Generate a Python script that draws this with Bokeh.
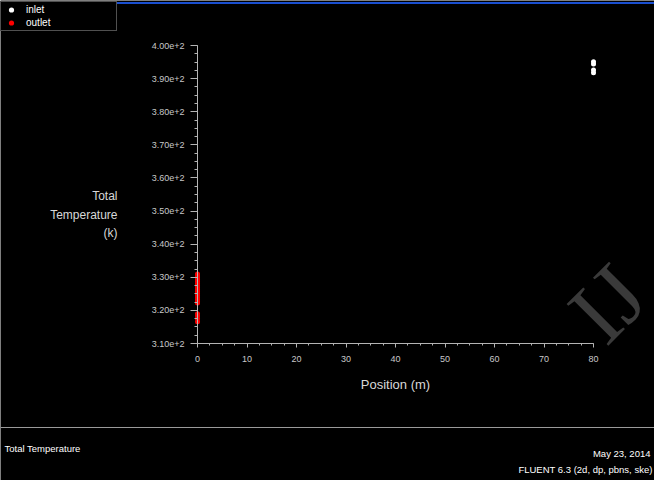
from bokeh.plotting import figure
from bokeh.models import (Range1d, FixedTicker, PrintfTickFormatter, Label, Legend,
                          LegendItem, Span, ColumnDataSource)
from bokeh.embed import file_html
from bokeh.resources import INLINE

# ---- data ----
inlet_position = [80, 80, 80, 80]
inlet_temperature = [395.1, 394.4, 392.6, 391.8]

outlet_position = [0] * 20
outlet_temperature = [331.0, 330.4, 329.9, 329.3, 328.7, 328.1, 327.5, 326.9, 326.3, 325.7,
                      325.1, 324.5, 323.9, 323.3, 322.7, 322.2, 319.0, 318.3, 317.5, 316.6]

x_ticks = [0, 10, 20, 30, 40, 50, 60, 70, 80]
y_ticks = [310, 320, 330, 340, 350, 360, 370, 380, 390, 400]

W, H = 654, 480
FONT = "Liberation Sans"
LBL = "#c8c8c8"
AXC = "#b4b4b4"

# frame fills the whole canvas; data window chosen so 0..80 / 310..400 land where the axes are
XPX = 4.95          # px per metre
YPX = 298 / 90      # px per kelvin
X0, Y400 = 197, 45  # canvas position of x=0 and y=400
x_lo = -X0 / XPX
x_hi = 80 + (W - (X0 + 80 * XPX)) / XPX
y_hi = 400 + Y400 / YPX
y_lo = 400 - (H - Y400) / YPX

p = figure(width=W, height=H, output_backend="svg", toolbar_location=None,
           x_range=Range1d(x_lo, x_hi), y_range=Range1d(y_lo, y_hi),
           min_border_left=0, min_border_right=0, min_border_top=0, min_border_bottom=0,
           background_fill_color="black", border_fill_color="black", outline_line_color=None)
p.grid.visible = False

x_minor = [i * 2.5 for i in range(33)]
y_minor = [310 + i * 2.5 for i in range(37)]

xa = p.xaxis[0]
xa.ticker = FixedTicker(ticks=x_ticks, minor_ticks=x_minor)
xa.bounds = (0, 80)
xa.fixed_location = 310
xa.axis_label = "Position (m)"
xa.axis_label_text_font = FONT
xa.axis_label_text_font_size = "13px"
xa.axis_label_text_font_style = "normal"
xa.axis_label_text_color = "#d8d8d8"
xa.axis_label_standoff = 12
xa.major_label_standoff = 8
xa.major_tick_out = 4
xa.minor_tick_out = 2

ya = p.yaxis[0]
ya.ticker = FixedTicker(ticks=y_ticks, minor_ticks=y_minor)
ya.formatter = PrintfTickFormatter(format="%.2e")
ya.bounds = (310, 400)
ya.fixed_location = 0
ya.major_label_standoff = 6
ya.major_tick_out = 7
ya.minor_tick_out = 3

for ax in (xa, ya):
    ax.axis_line_color = AXC
    ax.major_tick_line_color = AXC
    ax.minor_tick_line_color = AXC
    ax.major_tick_in = 0
    ax.minor_tick_in = 0
    ax.major_label_text_font = FONT
    ax.major_label_text_font_size = "9px"
    ax.major_label_text_color = LBL


def lab(text, x, y, **kw):
    # x, y: canvas pixels from top-left; screen units here are frame-relative, y up
    opts = dict(text_font=FONT, text_font_size="9.5px", text_color="white",
                text_baseline="middle")
    opts.update(kw)
    p.add_layout(Label(x=x, y=H - y, x_units="screen", y_units="screen", text=text, **opts))


# watermark (only the part that fits inside the picture)
lab("IJ", 584, 326, angle=45, angle_units="deg", text_font="Liberation Serif",
    text_font_size="90px", text_color="#3a3a3a", text_baseline="alphabetic")

src_in = ColumnDataSource(dict(x=inlet_position, y=inlet_temperature))
src_out = ColumnDataSource(dict(x=outlet_position, y=outlet_temperature))
r_in = p.scatter("x", "y", source=src_in, size=5, color="white", line_color=None)
r_out = p.scatter("x", "y", source=src_out, size=5, color="red", line_color=None)

# y axis title, right aligned, three lines
for txt, yy in (("Total", 195), ("Temperature", 214), ("(k)", 232)):
    lab(txt, 117, yy, text_align="right", text_font_size="12px", text_color="#d8d8d8")

legend = Legend(items=[LegendItem(label="inlet", renderers=[r_in]),
                       LegendItem(label="outlet", renderers=[r_out])],
                location=(0, H - 31), margin=0, padding=1, spacing=0,
                label_height=13, glyph_height=13, glyph_width=18, label_standoff=6,
                label_width=89, label_text_font=FONT, label_text_font_size="10px",
                label_text_color="white", background_fill_color="black",
                background_fill_alpha=1, border_line_color="#a0a0a0", border_line_width=1)
p.add_layout(legend, "center")

# footer separator and top blue rule
p.add_layout(Span(location=H - 427, location_units="screen", dimension="width",
                  line_color="#9a9a9a", line_width=1))
p.add_layout(Span(location=H - 2.5, location_units="screen", dimension="width",
                  line_color="#1a4fd0", line_width=2))

# footer texts
lab("Total Temperature", 4, 448)
lab("May 23, 2014", 650, 453, text_align="right")
lab("FLUENT 6.3 (2d, dp, pbns, ske)", 652, 469, text_align="right")

open("out.html", "w").write(file_html(p, INLINE))
